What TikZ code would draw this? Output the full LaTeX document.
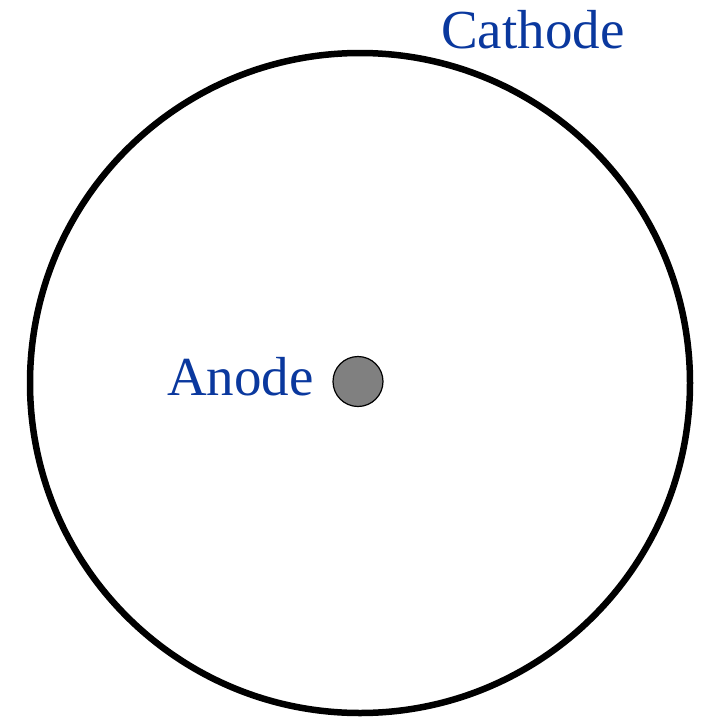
\documentclass[tikz,border=0pt]{standalone}
\usepackage{fontspec}
\setmainfont{Liberation Serif}
\usepackage{tikz}
\usetikzlibrary{positioning}
\definecolor{labelblue}{RGB}{10,56,158}

\begin{document}
\begin{tikzpicture}[
    x=1pt, y=-1pt,
    electrode/.style={draw, circle, inner sep=0pt},
    label/.style={text=labelblue, inner sep=0pt, font=\fontsize{55}{60}\selectfont}
]
\useasboundingbox (0,0) rectangle (703,721);
\node[electrode, line width=6.5pt, minimum size=660pt] (cathode) at (360,383) {};
\node[electrode, line width=1.2pt, fill=gray, minimum size=50pt] (anode) at (358,381.5) {};
\node[label, anchor=base west] (anodelabel) at (167,395) {Anode};
\node[label, anchor=base west] (cathodelabel) at (441,48) {Cathode};
\end{tikzpicture}
\end{document}
